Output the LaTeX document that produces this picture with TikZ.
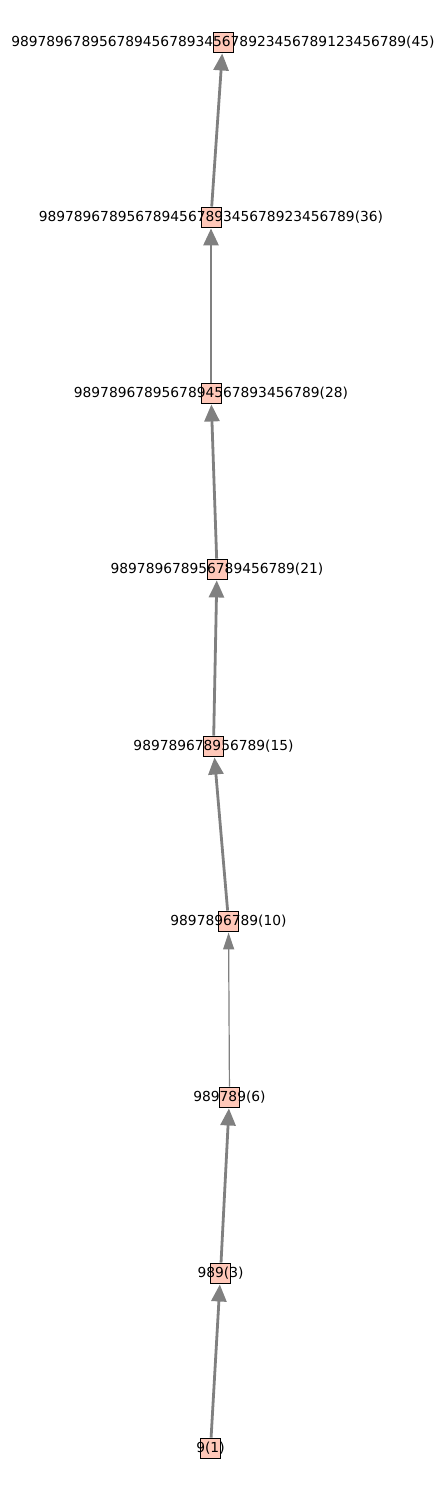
\documentclass[tikz,border=0pt]{standalone}
\usepackage{fontspec}
\setmainfont{DejaVu Sans}
\usetikzlibrary{arrows.meta}
\definecolor{nodefill}{RGB}{255,200,185}
\definecolor{edgegray}{RGB}{128,128,128}
\begin{document}
\begin{tikzpicture}[x=1pt,y=-1pt,
  vbox/.style={draw=black,line width=0.9pt,fill=nodefill,minimum width=20pt,minimum height=20pt,inner sep=0pt},
  vlabel/.style={inner sep=0pt,font=\fontsize{13.8}{16}\selectfont},
  thickedge/.style={draw=edgegray,line width=2.8pt,-{Triangle[length=17pt,width=15pt]},shorten >=1pt},
  thinedge/.style={draw=edgegray,line width=1.2pt,-{Triangle[length=17pt,width=11pt]},shorten >=1pt}]
\useasboundingbox (0,0) rectangle (445,1490);
\node[vbox] (n45) at (223,42) {};
\node[vbox] (n36) at (211,217) {};
\node[vbox] (n28) at (211,393) {};
\node[vbox] (n21) at (217,569) {};
\node[vbox] (n15) at (213.5,746) {};
\node[vbox] (n10) at (228.5,921) {};
\node[vbox] (n6) at (229.5,1097) {};
\node[vbox] (n3) at (220.5,1273) {};
\node[vbox] (n1) at (210.5,1448) {};
\draw[thickedge] (n1) -- (n3);
\draw[thickedge] (n3) -- (n6);
\draw[thinedge] (n6) -- (n10);
\draw[thickedge] (n10) -- (n15);
\draw[thickedge] (n15) -- (n21);
\draw[thickedge] (n21) -- (n28);
\draw[thickedge] (n28) -- (n36);
\draw[thickedge] (n36) -- (n45);
\node[vlabel] (l45) at (n45.center) {989789678956789456789345678923456789123456789(45)};
\node[vlabel] (l36) at (n36.center) {989789678956789456789345678923456789(36)};
\node[vlabel] (l28) at (n28.center) {9897896789567894567893456789(28)};
\node[vlabel] (l21) at (n21.center) {989789678956789456789(21)};
\node[vlabel] (l15) at (n15.center) {989789678956789(15)};
\node[vlabel] (l10) at (n10.center) {9897896789(10)};
\node[vlabel] (l6) at (n6.center) {989789(6)};
\node[vlabel] (l3) at (n3.center) {989(3)};
\node[vlabel] (l1) at (n1.center) {9(1)};
\end{tikzpicture}
\end{document}
